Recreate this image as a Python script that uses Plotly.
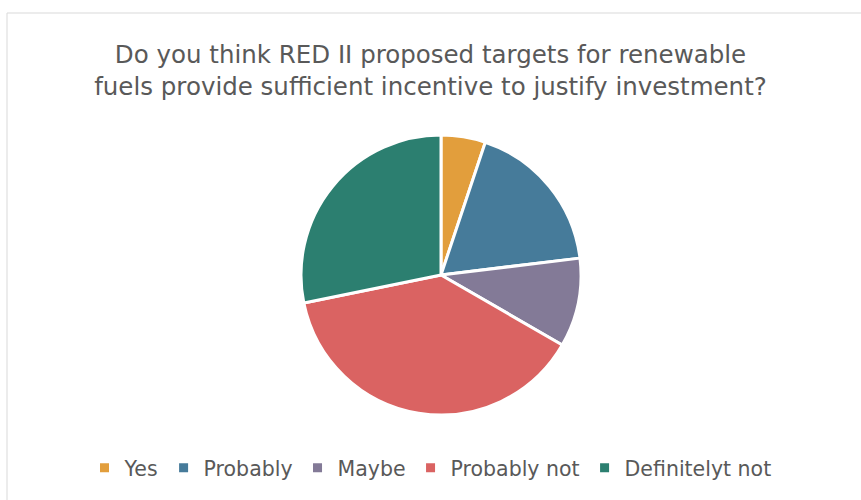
import plotly.graph_objects as go

# Survey responses
labels = ["Yes", "Probably", "Maybe", "Probably not", "Definitelyt not"]
counts = [2, 7, 4, 15, 11]
colors = ["#E29E3C", "#467B9A", "#837A97", "#DA6362", "#2C7F70"]

W, H = 861, 500
cx, cy, r = 441, 275, 140

fig = go.Figure(go.Pie(
    labels=labels,
    values=counts,
    sort=False,
    direction="clockwise",
    rotation=0,
    textinfo="none",
    hoverinfo="label+value+percent",
    marker=dict(colors=colors, line=dict(color="white", width=3)),
    domain=dict(x=[(cx - r) / W, (cx + r) / W], y=[1 - (cy + r) / H, 1 - (cy - r) / H]),
))

font_family = "DejaVu Sans, Verdana, sans-serif"

fig.update_layout(
    width=W, height=H,
    margin=dict(l=0, r=0, t=0, b=0),
    paper_bgcolor="white",
    plot_bgcolor="white",
    title=dict(
        text="Do you think RED II proposed targets for renewable<br>fuels provide sufficient incentive to justify investment?",
        x=0.5, xanchor="center",
        y=1 - 63 / H, yanchor="middle",
        font=dict(family=font_family, size=24.5, color="#595959"),
    ),
    legend=dict(
        orientation="h",
        x=0.5, xanchor="center",
        y=1 - 468 / H, yanchor="middle",
        font=dict(family=font_family, size=20.5, color="#595959"),
        itemwidth=30,
        tracegroupgap=0,
    ),
    shapes=[dict(
        type="rect", xref="paper", yref="paper",
        x0=7 / W, x1=1.02, y0=-0.02, y1=1 - 13 / H,
        line=dict(color="#D9D9D9", width=1),
        fillcolor="rgba(0,0,0,0)",
    )],
)

fig.write_html("out.html")
